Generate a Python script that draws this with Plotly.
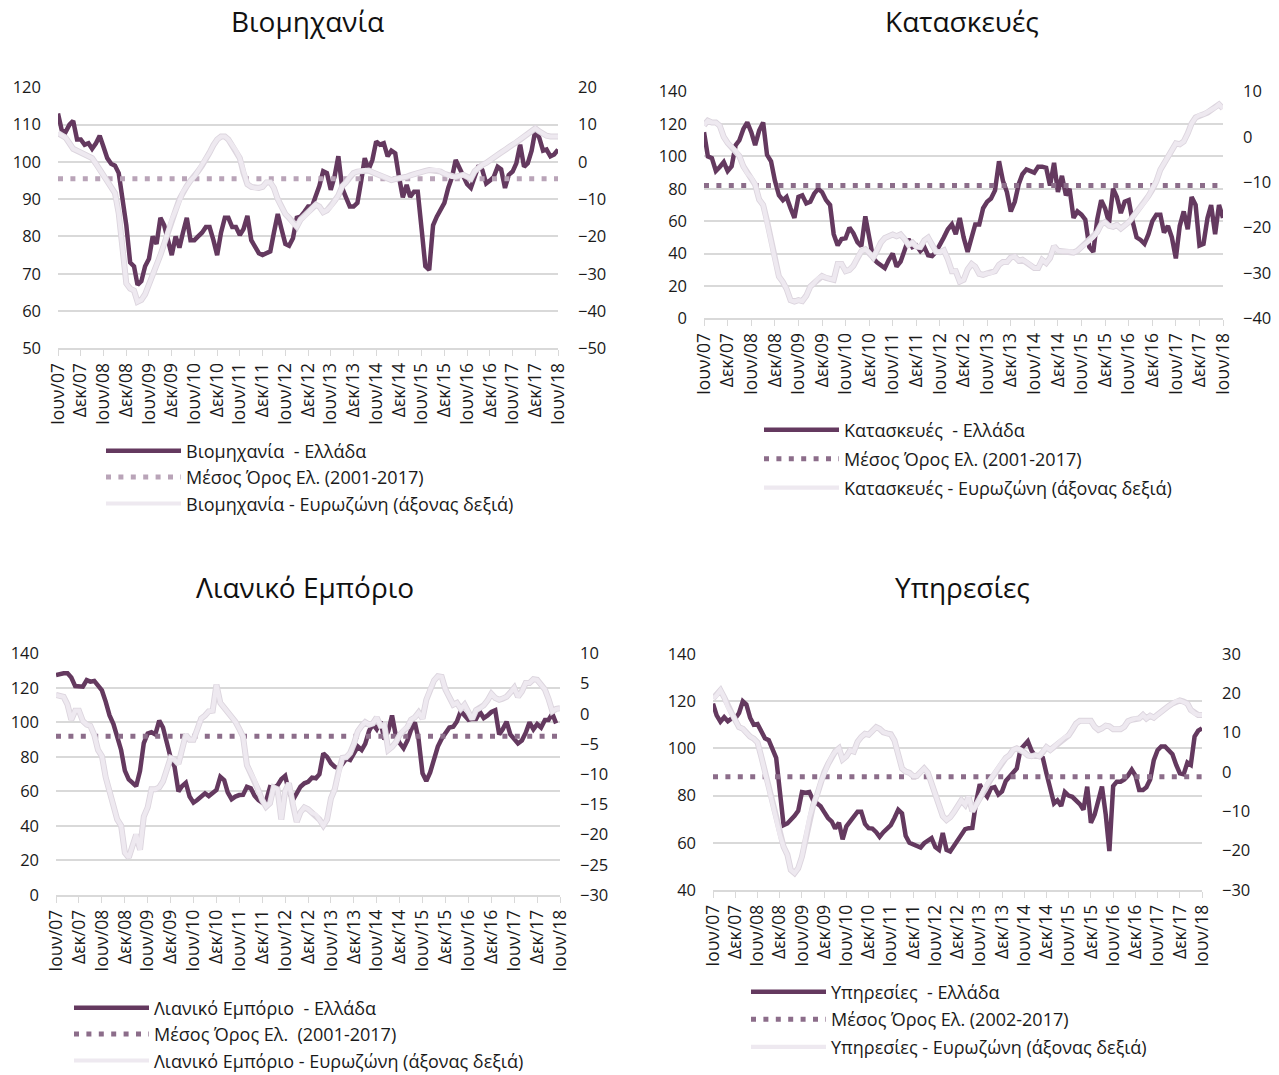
import pandas as pd
import plotly.graph_objects as go

# ---------------- data (monthly, Jun 2007 - Jun 2018) ----------------
months = pd.date_range("2007-06-01", periods=133, freq="MS")

ind_gr = [113,108.5,108,110,111,106,106,
          104.6,105,103.5,105,107,104,101,99.5,99,97,90,83,
          73,72,67,68,72,74,80,78,85,83,79,75,
          80,77,81,85,79,79,80,81,82.5,82.5,79,75,
          81,85,85,82.5,82.5,80.4,82,85.5,79,77,75.5,75,
          75.5,76,81,86,82,78,77.5,79.5,85,85.3,86.6,88,
          88,90.5,93.5,97.5,97,92.5,96,101.5,93,90.5,88,88,
          89,95,101,98,100.5,105.5,104.6,105,101.5,103,102.3,96,
          90.5,93.8,90.6,92,92,82,72,71,83,85.3,87.2,89,
          93,96,100.5,98.3,96,94,93,96,99,97.8,94.2,95,
          96,98.7,98,93,96.5,97.4,99.6,104.6,98.7,99.6,103,108.5,
          106.5,103,103.3,101.5,102,103.3]
ind_ez = [7.7,7,6.5,5,3.5,3,2.5,
          2,1.5,1,-0.5,-2,-3.5,-5,-7,-8.4,-13.8,-22.7,-32.6,
          -34,-34.5,-37.5,-37,-35.5,-33,-30,-28,-25,-22,-18.5,-15.5,
          -13,-10,-8,-6.5,-5,-4,-2.5,-1,0.5,2.5,4.5,6,
          6.8,6.8,6,4.5,3,1,-3,-6,-6.7,-7,-7,-6.7,
          -5.5,-5.5,-7,-10,-12,-14,-15,-16.5,-17.4,-15.5,-14.7,-13.5,
          -12.5,-11.5,-12,-13.5,-13,-12,-10.5,-9,-6.5,-5.5,-4,-3,
          -2.6,-2.4,-2.2,-2.3,-2.8,-3.3,-3.6,-4,-4.5,-4.9,-4.6,-4.5,
          -4.2,-4,-3.6,-3.2,-3,-2.7,-2.4,-2.2,-2.2,-2.2,-2.6,-3.2,
          -3.6,-4,-4,-3.7,-3.5,-4,-4.5,-2.5,-1.5,-0.8,-0.3,0.5,
          1,1.9,2.5,3.2,3.7,4.6,5.2,6,6.8,7.5,8.3,9,
          8.2,7.5,7,6.8,6.8,6.8]
ind_avg = 95.5

con_gr = [115,100,99,91,93.5,96.5,91,
          94,107,110,117,121,115,107,116,121,101,97,85,
          76,73,75,68,62,75,76,71,72,77,80,78,
          73,70,52,45,49,49.4,56,52.5,47,44.5,63,50,
          37,34.5,33,31,36,40,32,35,42,49,44,45,
          41.5,44,39,38.5,41,45,50,55,58,52,62,50,
          41,50,58,58,68,72,74,79,97,85,78,66,
          72,83,89,92,91,90,93.7,93.7,93,82,96,78,
          88,76,80,62,66,64,61,44,41,61,73,68,
          59,80,75,65,72,73,60,50,48.4,46,52,60,
          64,64,53,57,50,37,57,66,55,75,70,45,
          46,62,70,52,70,62]
con_ez = [2.6,3.6,3.2,3.2,2.5,0,-1.3,
          -2.2,-3,-4.2,-6.5,-8,-9,-10.5,-13.8,-15,-18.5,-23,-27,
          -30.8,-32,-33.5,-36,-36.3,-36,-36.2,-35,-33,-32.2,-31.2,-30.7,
          -31.1,-31.3,-31.5,-28,-28,-29.6,-29.3,-28.4,-26.6,-25.2,-24.8,-25.5,
          -26.6,-25,-23.3,-22.3,-22,-21.5,-21.9,-21.5,-22.5,-23.8,-23.3,-24.2,
          -24.3,-22.8,-22.2,-23.8,-25.3,-25.4,-25,-27,-29.6,-29.6,-31.9,-31.5,
          -29.2,-28,-28.6,-30.2,-30.4,-30.1,-30,-29.6,-28.2,-27.6,-27.6,-26.6,
          -26.4,-27.3,-27.1,-27.6,-28.2,-28.9,-28.9,-27.1,-27.8,-26.7,-24.1,-25.1,
          -25.2,-25.2,-25.2,-25.5,-25.1,-24.3,-23.6,-22.9,-22.2,-21,-19.3,-18.8,
          -19.6,-19.8,-19.4,-20.2,-19.5,-18.8,-17.7,-16.6,-15.6,-14.4,-13,-11.6,
          -9.8,-7.2,-5.8,-4.2,-2.6,-1.4,-1.6,-1,0.8,3,4.3,4.8,
          5,5.4,6,6.5,7.2,6.3]
con_avg = 82

ret_gr = [127.4,128,128.4,128.4,126,121,120.7,
          120.7,124.5,123.6,124,121,118.5,112,104,99,92,84,72,
          67,65,63,72,88,93.5,94.3,93,101,97,89,79.5,
          74.3,60,63,65,57,53.5,55,57,58.9,57.3,59.5,60.8,
          68.5,66.5,59.5,55.5,57,57.9,58,62.7,61.8,57.5,55,53.5,
          54.5,62.5,62,63.5,67,69,60,55,58.9,62.7,64.7,65.6,
          68,67.6,70,82,80,76.3,74.3,73.4,76,79,78.2,82,
          86,84,87.5,95,99,96,100.5,90,95,104,92,88,
          85,89.5,95.5,100,90,70.5,66,71,79,86,90.5,93.6,
          97,97.5,100.5,106.5,104,101.5,102,102,106,102.5,104,106,
          107,93,96,100.4,93,90.5,87.8,89.5,94,100,96,99,
          97,101.4,101.4,105,99.4]
ret_ez = [3.1,3,2.8,1.5,-1,0.5,0.5,
          -1.2,-1.8,-2,-3.5,-6,-7,-10.5,-13,-15.2,-17.5,-18.5,-23,
          -23.8,-22,-20,-22.5,-17,-15.5,-12.5,-12.5,-12.2,-11.2,-9.2,-7.3,
          -7.6,-8.3,-6,-3.5,-4.3,-4.3,-2.6,-0.8,-0.3,0.4,0.5,4.8,
          1.8,1,0.2,-0.4,-1.3,-2.5,-3.8,-8.5,-9.8,-11,-12.7,-14.3,
          -15.4,-14.8,-12.2,-12.5,-17.5,-12.8,-11.5,-15,-17.9,-16.3,-15.5,-15.8,
          -16.4,-16.7,-17.5,-18.5,-17.5,-14,-12.5,-9.5,-7.3,-7.2,-6.5,-5,
          -2.9,-2,-1.4,-1.8,-1.6,-0.6,-2,-1.9,-6,-5.5,-4.7,-3.5,
          -2.7,-2.2,-1,-0.6,0.2,-0.8,2.3,4,5.5,6.2,6.1,4,
          2.6,1.5,1.8,0.8,1.5,0.2,-0.9,0.6,0.9,1.4,2.2,3.3,
          2.6,2.3,2.5,2.8,3.5,4.3,2.8,3.7,5.1,5.1,5.7,5.6,
          4.8,4,2.5,0.4,0.8,0.9]
ret_avg = 92

ser_gr = [119,114,111.3,113.2,111.5,112.7,112.7,
          115,120,118.6,113,110,110.3,107,104.3,103.5,100,96,82,
          67.5,68.2,69.6,71.4,73.5,81.5,81.2,81.5,78,76.7,75.5,73,
          70.5,69,66,68.5,61.5,67,69,71.5,73.2,73.2,68,66.2,
          66,64.5,62.5,64.5,66.1,67.5,70.5,74,72.5,63,60,59.3,
          58.5,58,59.8,61,62,58.2,57,64.2,57,56.3,58.6,61,
          63.5,65.8,66.2,66.3,77,84.8,81.5,79.5,83.2,83.6,80.5,81.8,
          86.2,88,89.4,91.5,99.5,101.2,103,99,96.8,96.8,96,89.4,
          83,76.7,78,75.6,81.5,80,79.5,78,76.4,74,83.8,68.5,
          72,78.1,83.8,72,56.5,84,85.9,85.9,86.8,88.5,91,88.5,
          82.4,82.4,83.5,86.8,95,99.2,100.8,100.8,99,97.5,93,89.4,
          89,94,93,105,107.5,108.5]
ser_ez = [18.7,19.5,20.8,19,16.5,15,13.2,
          11.4,11,10,9,8.5,7.5,4,0.2,-4,-8,-12,-16,
          -19,-21,-24.9,-25.7,-24.5,-21.5,-17,-11.5,-8.4,-6,-2.7,0,
          2,3.9,5.2,6,3.2,4,5.5,5.2,7.7,8.9,9.7,9.5,
          10.6,11.4,11,10.1,9.8,9.6,8,4.7,0.9,0.1,-0.2,-1,
          -1,0,0.9,-0.2,-3,-6.2,-8.7,-11.2,-12.2,-11.5,-10.2,-8.6,
          -7.2,-8.3,-6.3,-10,-8.4,-6.8,-4.5,-3,-1.8,-0.5,1,2.5,
          3.6,4.3,5.6,6,5.7,5,4.2,4,4.3,4,5,6.3,
          5.6,6.4,7.3,8,8.9,9.3,10.7,12.3,13,13,12.9,13,
          11.5,10.7,11.1,11.8,11.6,10.9,10.9,10.9,11.5,12.9,13.3,13.6,
          13.6,14.5,13.6,14.3,13.8,14.6,15.4,16.3,16.8,17.4,18,18.2,
          17.9,17.4,15.8,14.9,14.5,14.5]
ser_avg = 88

tick_dates = months[::6]
tick_text = [("Ιουν/" if d.month == 6 else "Δεκ/") + d.strftime("%y") for d in tick_dates]

panels = [
    dict(title="Βιομηχανία", gr=ind_gr, ez=ind_ez, avg=ind_avg,
         names=["Βιομηχανία  - Ελλάδα", "Μέσος Όρος Ελ. (2001-2017)", "Βιομηχανία - Ευρωζώνη (άξονας δεξιά)"],
         left=[50, 120], ldt=10, right=[-50, 20], rdt=10),
    dict(title="Κατασκευές", gr=con_gr, ez=con_ez, avg=con_avg,
         names=["Κατασκευές  - Ελλάδα", "Μέσος Όρος Ελ. (2001-2017)", "Κατασκευές - Ευρωζώνη (άξονας δεξιά)"],
         left=[0, 140], ldt=20, right=[-40, 10], rdt=10),
    dict(title="Λιανικό Εμπόριο", gr=ret_gr, ez=ret_ez, avg=ret_avg,
         names=["Λιανικό Εμπόριο  - Ελλάδα", "Μέσος Όρος Ελ.  (2001-2017)", "Λιανικό Εμπόριο - Ευρωζώνη (άξονας δεξιά)"],
         left=[0, 140], ldt=20, right=[-30, 10], rdt=5),
    dict(title="Υπηρεσίες", gr=ser_gr, ez=ser_ez, avg=ser_avg,
         names=["Υπηρεσίες  - Ελλάδα", "Μέσος Όρος Ελ. (2002-2017)", "Υπηρεσίες - Ευρωζώνη (άξονας δεξιά)"],
         left=[40, 140], ldt=20, right=[-30, 30], rdt=10),
]

# ---------------- layout geometry ----------------
W, H = 1279, 1075
OFF = 0                    # body margin is removed in the page (see post_script)
FONT = "Open Sans"
GR_COL = "#64395f"
EZ_COL = "#eee9f0"
EZ_EDGE = "#dcd5de"
AVG_COLS = ["#b9a4b8", "#8c6d8a", "#8c6d8a", "#8c6d8a"]
GRID = "#d9d9d9"

# page pixel positions: (x0, x1, ytop, ybottom)
boxes = [(58, 558, 87.3, 348.3), (704, 1223, 91.7, 318.3),
         (56, 560, 653.3, 895), (713, 1202, 654, 890)]
title_pos = [(307, 21), (962, 21), (305, 587), (962, 587)]
# legend: (symbol start x, first row centre y, group gap)
legend_pos = [(107, 451, 0), (765, 430, 2.6), (75, 1008, 0), (752, 992, 1.2)]


def fx(px):
    return (px - OFF) / W


def fy(py):
    return 1 - (py - OFF) / H


fig = go.Figure()
layout = dict(width=W, height=H, margin=dict(l=0, r=0, t=0, b=0, autoexpand=False),
              paper_bgcolor="white", plot_bgcolor="white",
              font=dict(family=FONT, size=16, color="#1a1a1a"),
              showlegend=True, annotations=[])

for k, p in enumerate(panels):
    xa = "x" if k == 0 else f"x{k+1}"
    ya_l = 2 * k + 1
    ya_r = 2 * k + 2
    yl = "y" if ya_l == 1 else f"y{ya_l}"
    yr = f"y{ya_r}"
    leg = "legend" if k == 0 else f"legend{k+1}"
    x0, x1, yt, yb = boxes[k]

    fig.add_trace(go.Scatter(x=months, y=p["gr"], mode="lines", name=p["names"][0],
                             line=dict(color=GR_COL, width=4.5), xaxis=xa, yaxis=yl,
                             legend=leg, legendgroup=f"a{k}"))
    fig.add_trace(go.Scatter(x=months, y=[p["avg"]] * len(months), mode="lines", name=p["names"][1],
                             line=dict(color=AVG_COLS[k], width=5, dash="5px,7.4px"),
                             xaxis=xa, yaxis=yl, legend=leg, legendgroup=f"b{k}"))
    fig.add_trace(go.Scatter(x=months, y=p["ez"], mode="lines", showlegend=False,
                             line=dict(color=EZ_EDGE, width=6), xaxis=xa, yaxis=yr,
                             hoverinfo="skip"))
    fig.add_trace(go.Scatter(x=months, y=p["ez"], mode="lines", name=p["names"][2],
                             line=dict(color=EZ_COL, width=4.2), xaxis=xa, yaxis=yr,
                             legend=leg, legendgroup=f"c{k}"))

    xkey = "xaxis" if k == 0 else f"xaxis{k+1}"
    ylkey = "yaxis" if ya_l == 1 else f"yaxis{ya_l}"
    yrkey = f"yaxis{ya_r}"
    layout[xkey] = dict(domain=[fx(x0), fx(x1)], anchor=yl, type="date", automargin=False,
                        range=[months[0], months[-1]],
                        tickmode="array", tickvals=list(tick_dates), ticktext=tick_text,
                        tickangle=-90, tickfont=dict(size=17.5, color="#1a1a1a"),
                        ticks="outside", ticklen=6, tickcolor=GRID, tickwidth=1.3,
                        showline=True, linecolor=GRID, linewidth=1.5,
                        showgrid=False, zeroline=False)
    layout[ylkey] = dict(domain=[fy(yb), fy(yt)], anchor=xa, automargin=False,
                         range=p["left"], dtick=p["ldt"], tick0=0,
                         showgrid=True, gridcolor=GRID, gridwidth=1.5,
                         zeroline=False, showline=False, ticks="",
                         ticklabelstandoff=16, tickfont=dict(size=16.5, color="#1a1a1a"))
    layout[yrkey] = dict(overlaying=yl, side="right", anchor=xa, automargin=False,
                         range=p["right"], dtick=p["rdt"], tick0=0,
                         showgrid=False, zeroline=False, showline=False, ticks="",
                         ticklabelstandoff=19, tickfont=dict(size=16.5, color="#1a1a1a"))

    sx, sy, gap = legend_pos[k]
    layout[leg] = dict(x=fx(sx - 6), y=fy(sy - 18.5), xanchor="left", yanchor="top",
                       bgcolor="rgba(0,0,0,0)", itemwidth=75, tracegroupgap=gap,
                       font=dict(family=FONT, size=18, color="#1a1a1a"))

    tx, ty = title_pos[k]
    layout["annotations"].append(dict(text=p["title"], x=fx(tx), y=fy(ty), xref="paper", yref="paper",
                                      xanchor="center", yanchor="middle", showarrow=False,
                                      font=dict(family=FONT, size=28, color="#111111")))

fig.update_layout(**layout)
fig.write_html("out.html", config={"displayModeBar": False},
               post_script="document.body.style.margin='0px';")
